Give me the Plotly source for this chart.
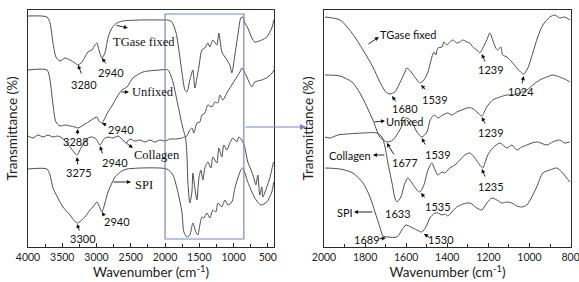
import plotly.graph_objects as go

# ---------------- Left panel: full range spectra (wavenumber, relative transmittance) -------------
tg_w = [4000, 3723, 3679, 3635, 3592, 3533, 3460, 3387, 3315, 3271, 3212, 3169, 3125, 3067, 3023, 2994,
        2965, 2921, 2877, 2833, 2775, 2702, 2615, 2367, 2002, 1958, 1900, 1842, 1798, 1754, 1710, 1681,
        1638, 1594, 1565, 1535, 1506, 1462, 1419, 1375, 1346, 1302, 1244, 1215, 1171, 1127, 1054, 1025,
        981, 937, 894, 865, 835, 792, 733, 690, 587, 515, 442, 413]
tg_t = [231, 230, 224, 204, 190, 186, 189, 187, 184, 182, 185, 190, 195, 197, 202, 204,
        197, 189, 194, 209, 219, 224, 226, 227, 227, 227, 225, 215, 197, 175, 157, 155,
        167, 177, 159, 169, 180, 197, 199, 204, 200, 207, 202, 214, 195, 190, 182, 174,
        192, 212, 229, 230, 224, 219, 209, 205, 207, 210, 219, 227]

un_w = [4000, 3723, 3679, 3635, 3592, 3533, 3460, 3387, 3315, 3271, 3212, 3169, 3096, 3052, 2994, 2965,
        2921, 2877, 2833, 2775, 2702, 2629, 2556, 2469, 2323, 2075, 1958, 1885, 1813, 1740, 1696, 1667,
        1638, 1608, 1579, 1535, 1492, 1462, 1419, 1375, 1317, 1273, 1229, 1200, 1156, 1098, 1054, 981,
        908, 879, 806, 733, 690, 587, 500, 427, 413]
un_t = [177, 177, 167, 142, 125, 121, 122, 121, 120, 119, 121, 123, 126, 128, 130, 126,
        124, 129, 135, 141, 150, 157, 160, 169, 175, 177, 177, 165, 142, 119, 110, 113,
        117, 119, 114, 124, 125, 132, 134, 142, 140, 145, 144, 152, 147, 154, 159, 167,
        175, 179, 170, 160, 165, 167, 170, 175, 177]

co_w = [4000, 3927, 3854, 3781, 3708, 3635, 3563, 3504, 3387, 3285, 3227, 3125, 3067, 3008, 2950, 2892,
        2833, 2760, 2687, 2629, 2571, 2513, 2440, 2367, 2294, 2221, 2148, 2075, 2002, 1929, 1842, 1754,
        1710, 1681, 1667, 1638, 1608, 1594, 1565, 1535, 1506, 1477, 1448, 1419, 1375, 1331, 1302, 1244,
        1215, 1171, 1142, 1098, 1054, 1010, 952, 923, 879, 835, 792, 733, 704, 675, 646, 617,
        587, 573, 515, 471, 427, 413]
co_t = [111, 109, 112, 110, 112, 110, 111, 109, 100, 92, 99, 109, 110, 108, 102, 108,
        110, 109, 111, 108, 104, 108, 106, 107, 105, 107, 105, 107, 106, 108, 108, 109,
        110, 92, 65, 44, 55, 74, 59, 47, 69, 77, 67, 79, 85, 79, 90, 84,
        99, 90, 102, 97, 104, 109, 105, 110, 107, 99, 85, 75, 69, 62, 72, 52,
        60, 50, 60, 69, 82, 85]

spi_w = [4000, 3723, 3679, 3635, 3563, 3490, 3387, 3285, 3169, 3096, 3052, 2994, 2950, 2921, 2877, 2833,
         2775, 2731, 2629, 2556, 1973, 1885, 1813, 1754, 1725, 1681, 1638, 1594, 1550, 1521, 1492, 1462,
         1433, 1390, 1346, 1302, 1258, 1229, 1171, 1127, 1083, 1025, 981, 937, 894, 865, 792, 690,
         602, 515, 442, 413]
spi_t = [78, 78, 72, 59, 49, 40, 32, 24, 30, 37, 40, 45, 39, 35, 44, 55,
         64, 70, 76, 78, 78, 72, 55, 35, 15, 10, 12, 24, 15, 12, 22, 30,
         29, 34, 29, 37, 35, 44, 40, 47, 42, 45, 59, 69, 77, 79, 65, 49,
         42, 45, 55, 65]

# ---------------- Right panel: 2000-800 cm-1 detail -------------
tg2_w = [1995, 1922, 1864, 1810, 1762, 1728, 1699, 1679, 1655, 1631, 1606, 1597, 1572, 1548, 1533, 1514,
         1494, 1475, 1465, 1456, 1446, 1426, 1417, 1402, 1388, 1373, 1354, 1339, 1324, 1305, 1290, 1276,
         1256, 1242, 1227, 1208, 1193, 1179, 1164, 1154, 1140, 1130, 1110, 1086, 1062, 1038, 1028, 1008,
         984, 960, 935, 901, 877, 853, 829, 804]
tg2_t = [230, 227, 214, 197, 180, 165, 155, 153, 155, 164, 175, 179, 174, 167, 164, 167,
         175, 190, 195, 192, 199, 200, 205, 202, 205, 207, 204, 205, 207, 205, 204, 200,
         197, 194, 199, 207, 214, 207, 199, 197, 200, 192, 190, 185, 179, 174, 173, 179,
         194, 210, 222, 230, 232, 229, 230, 227]

un2_w = [1995, 1922, 1864, 1825, 1791, 1762, 1728, 1694, 1665, 1631, 1611, 1597, 1572, 1548, 1524, 1499,
         1485, 1475, 1460, 1446, 1422, 1397, 1378, 1354, 1329, 1305, 1281, 1256, 1232, 1208, 1179, 1144,
         1110, 1081, 1047, 1013, 984, 950, 916, 887, 853, 819, 804]
un2_t = [172, 171, 165, 154, 140, 127, 110, 105, 107, 117, 126, 129, 125, 115, 110, 115,
         126, 130, 132, 129, 132, 134, 132, 135, 137, 139, 139, 135, 131, 140, 147, 150,
         152, 152, 154, 157, 162, 167, 170, 172, 170, 167, 165]

co2_w = [1995, 1971, 1932, 1888, 1810, 1742, 1718, 1703, 1689, 1669, 1655, 1645, 1626, 1606, 1592, 1572,
         1548, 1533, 1514, 1494, 1475, 1460, 1446, 1426, 1412, 1388, 1363, 1339, 1315, 1290, 1266, 1242,
         1227, 1217, 1203, 1179, 1144, 1110, 1086, 1062, 1038, 1013, 989, 960, 916, 887, 853, 829, 804]
co2_t = [110, 109, 112, 113, 114, 114, 110, 100, 84, 64, 49, 45, 50, 64, 69, 64,
         57, 55, 62, 77, 84, 77, 72, 75, 74, 79, 82, 87, 92, 94, 89, 82,
         79, 84, 92, 99, 104, 99, 102, 97, 100, 102, 104, 105, 102, 105, 107, 104, 105]

spi2_w = [1995, 1922, 1859, 1810, 1776, 1752, 1728, 1713, 1689, 1645, 1621, 1601, 1577, 1548, 1524, 1504,
          1485, 1460, 1446, 1426, 1412, 1397, 1378, 1354, 1324, 1290, 1256, 1232, 1208, 1183, 1159, 1135,
          1110, 1086, 1062, 1038, 1013, 989, 965, 935, 901, 867, 843, 819, 804]
spi2_t = [79, 78, 74, 64, 50, 35, 20, 11, 10, 10, 17, 22, 20, 17, 15, 20,
          29, 34, 34, 32, 33, 31, 35, 40, 43, 44, 39, 37, 44, 49, 47, 44,
          45, 44, 41, 40, 42, 50, 60, 74, 77, 79, 75, 69, 65]

# ---------------- Labels (text, wavenumber, T) -------------
left_names = [("TGase fixed", 2308, 205), ("Unfixed", 2177, 155), ("Collagen", 2119, 92), ("SPI", 2308, 62)]
left_peaks = [("3280", 3183, 163), ("2940", 2790, 175), ("3288", 3300, 106), ("2940", 2644, 118),
              ("3275", 3256, 75), ("2940", 2731, 85), ("3300", 3198, 9), ("2940", 2702, 26)]
# arrows: (head_w, head_t, tail_w, tail_t)
left_arrows = [(2542, 219, 2731, 222), (3271, 182, 3212, 172), (2921, 189, 2848, 182),
               (2527, 155, 2658, 155), (3271, 118, 3285, 111), (2921, 124, 2833, 121),
               (3285, 90, 3271, 81), (2950, 101, 2906, 92), (2469, 99, 2585, 105),
               (2498, 65, 2775, 65), (3285, 23, 3242, 15), (2921, 35, 2877, 30)]

right_names = [("TGase fixed", 1587, 213), ("Unfixed", 1606, 126), ("Collagen", 1874, 92), ("SPI", 1898, 35)]
right_peaks = [("1680", 1606, 139), ("1539", 1460, 148), ("1239", 1188, 178), ("1024", 1042, 156),
               ("1239", 1188, 115), ("1677", 1606, 85), ("1539", 1446, 93), ("1235", 1188, 61),
               ("1633", 1640, 34), ("1535", 1446, 41), ("1689", 1791, 8), ("1530", 1431, 8)]
right_arrows = [(1733, 210, 1791, 202), (1669, 151, 1645, 144), (1528, 162, 1499, 156),
                (1232, 193, 1213, 184), (1028, 171, 1038, 162), (1703, 126, 1762, 125),
                (1232, 130, 1213, 122), (1694, 104, 1655, 91), (1524, 109, 1504, 101),
                (1762, 92, 1699, 92), (1232, 78, 1213, 69), (1528, 54, 1504, 48),
                (1854, 35, 1757, 35), (1699, 9, 1738, 8), (1514, 13, 1480, 9)]

LINE = "#4d4d4d"
AX = "#2b2b2b"
BLUE = "#7d82d2"
SANS = "Lato, 'Liberation Sans', sans-serif"
SERIF = "'Liberation Serif', 'DejaVu Serif', serif"

fig = go.Figure()
for w, t in [(tg_w, tg_t), (un_w, un_t), (co_w, co_t), (spi_w, spi_t)]:
    fig.add_trace(go.Scatter(x=w, y=t, mode="lines", xaxis="x", yaxis="y",
                             line=dict(color=LINE, width=1, shape="spline", smoothing=0.7),
                             showlegend=False, hoverinfo="skip"))
for w, t in [(tg2_w, tg2_t), (un2_w, un2_t), (co2_w, co2_t), (spi2_w, spi2_t)]:
    fig.add_trace(go.Scatter(x=w, y=t, mode="lines", xaxis="x2", yaxis="y2",
                             line=dict(color=LINE, width=1, shape="spline", smoothing=0.7),
                             showlegend=False, hoverinfo="skip"))

ann = []
for txt, w, t in left_names:
    ann.append(dict(text=txt, x=w, y=t, xref="x", yref="y", showarrow=False,
                    font=dict(family=SERIF, size=12.5, color="#111")))
for txt, w, t in left_peaks:
    ann.append(dict(text=txt, x=w, y=t, xref="x", yref="y", showarrow=False,
                    font=dict(family=SANS, size=11, color="#111")))
for hw, ht, tw, tt in left_arrows:
    ann.append(dict(text="", x=hw, y=ht, ax=tw, ay=tt, xref="x", yref="y", axref="x", ayref="y",
                    showarrow=True, arrowhead=2, arrowsize=0.9, arrowwidth=0.9, arrowcolor="#111", standoff=0))
for txt, w, t in right_names:
    ann.append(dict(text=txt, x=w, y=t, xref="x2", yref="y2", showarrow=False,
                    font=dict(family=SANS, size=11, color="#111")))
for txt, w, t in right_peaks:
    ann.append(dict(text=txt, x=w, y=t, xref="x2", yref="y2", showarrow=False,
                    font=dict(family=SANS, size=11, color="#111")))
for hw, ht, tw, tt in right_arrows:
    ann.append(dict(text="", x=hw, y=ht, ax=tw, ay=tt, xref="x2", yref="y2", axref="x2", ayref="y2",
                    showarrow=True, arrowhead=2, arrowsize=0.9, arrowwidth=0.9, arrowcolor="#111", standoff=0))
# zoom arrow linking panels
ann.append(dict(text="", x=306 / 579, y=1 - 127 / 282, xref="paper", yref="paper", ax=-62, ay=0,
                axref="pixel", ayref="pixel", showarrow=True, arrowhead=2, arrowsize=1,
                arrowwidth=1.2, arrowcolor=BLUE, standoff=0))

xcommon = dict(showline=True, linecolor=AX, linewidth=1.3, mirror=True, showgrid=False, zeroline=False,
               automargin=False, ticklabeloverflow="allow",
               ticks="inside", ticklen=4, tickcolor=AX, tickfont=dict(family=SANS, size=10.5, color="#222"),
               title=dict(text="Wavenumber (cm<sup>-1</sup>)", font=dict(family=SANS, size=13.5, color="#222"),
                          standoff=4))
ycommon = dict(showline=True, linecolor=AX, linewidth=1.3, mirror=True, showgrid=False, zeroline=False,
               automargin=False,
               showticklabels=False, ticks="", range=[0, 237],
               title=dict(text="Transmittance (%)", font=dict(family=SANS, size=13.5, color="#222"), standoff=6),
               domain=[1 - 247 / 282, 1 - 10 / 282])

fig.update_layout(
    width=579, height=282, margin=dict(l=0, r=0, t=0, b=0, autoexpand=False),
    paper_bgcolor="white", plot_bgcolor="white",
    xaxis=dict(xcommon, domain=[28 / 579, 274 / 579], range=[4000, 410], tick0=0, dtick=500,
               minor=dict(ticks="inside", ticklen=2.5, dtick=250, tickcolor=AX), anchor="y"),
    yaxis=dict(ycommon, anchor="x"),
    xaxis2=dict(xcommon, domain=[324 / 579, 571 / 579], range=[2000, 798], tick0=0, dtick=200,
                minor=dict(ticks="inside", ticklen=2.5, dtick=100, tickcolor=AX), anchor="y2"),
    yaxis2=dict(ycommon, anchor="x2"),
    annotations=ann,
    shapes=[dict(type="rect", xref="x", yref="y", x0=2000, x1=850, y0=8, y1=233,
                 line=dict(color=BLUE, width=1.2), fillcolor="rgba(0,0,0,0)")],
)

fig.write_html("out.html", config={"displayModeBar": False},
               post_script="document.body.style.margin='0';")
